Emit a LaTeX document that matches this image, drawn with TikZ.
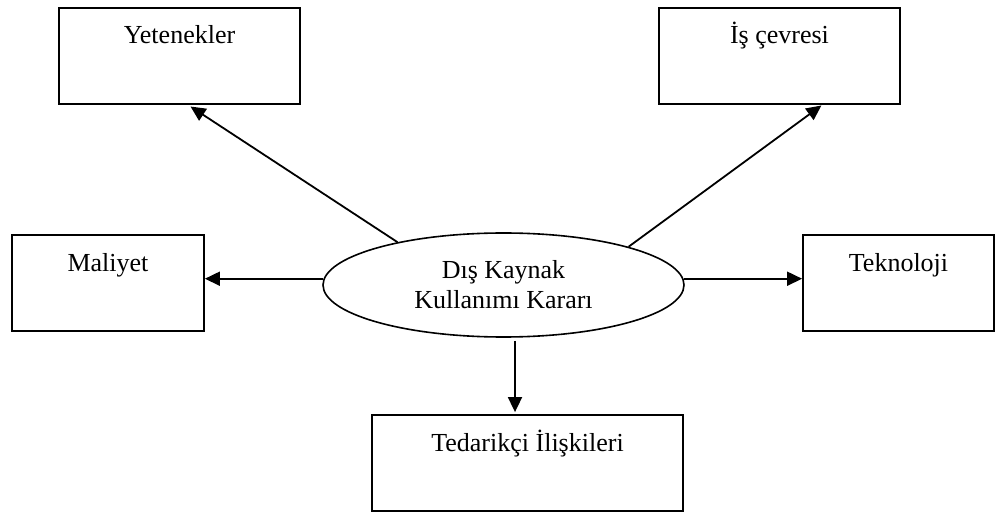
\documentclass[tikz,border=0pt]{standalone}
\usepackage{fontspec}
\setmainfont{Liberation Serif}
\usepackage{tikz}
\usetikzlibrary{positioning,arrows.meta,calc,shapes.geometric}

\begin{document}
\begin{tikzpicture}[x=0.5pt,y=-0.5pt,
  font=\fontsize{13}{15}\selectfont,
  box/.style={draw,line width=0.9pt,inner sep=0pt,
     minimum width=#1,text height=18pt,text depth=30pt},
  oval/.style={draw,ellipse,line width=0.8pt,inner sep=0pt,
     minimum width=180.5pt,minimum height=52pt,align=center},
  arr/.style={draw,line width=0.9pt,-{Triangle[length=7.5pt,width=7pt]}}]
\useasboundingbox (0,0) rectangle (996,513);
\node[oval] (ell) at (503.5,285) {Dış Kaynak\\Kullanımı Kararı};
\node[box=120.5pt] (yet) at (179.5,56) {Yetenekler};
\node[box=120.5pt] (is) at (779.5,56) {İş çevresi};
\node[box=96pt] (mal) at (108,283) {Maliyet};
\node[box=95.5pt] (tek) at (898.5,283) {Teknoloji};
\node[box=155.5pt] (ted) at (527.5,463) {Tedarikçi İlişkileri};
\coordinate (d) at ($(ell.south)+(11.5,3)$);
\draw[arr,shorten >=1.5pt] (ell.158.8)--($(yet.south west)!0.535!(yet.south east)$);
\draw[arr,shorten >=0.5pt] (ell.17)--($(is.south west)!0.676!(is.south east)$);
\draw[arr] (ell.178)--(ell.178 -| mal.east);
\draw[arr] (ell.2)--(ell.2 -| tek.west);
\draw[arr,shorten >=1pt] (d)--(d |- ted.north);
\end{tikzpicture}
\end{document}
